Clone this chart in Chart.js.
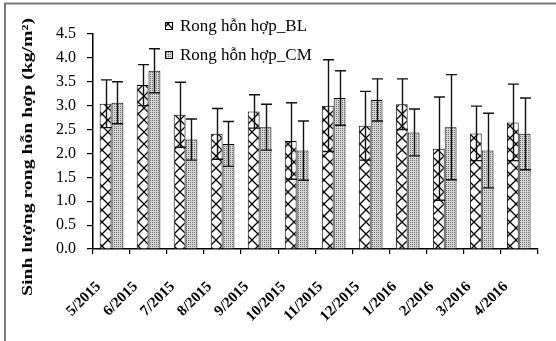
<!DOCTYPE html>
<html><head><meta charset="utf-8">
<script src="https://cdn.jsdelivr.net/npm/chart.js@4"></script>
<style>html,body{margin:0;padding:0;background:#fff}#wrap{width:556px;height:341px;position:relative}</style>
</head><body><div id="wrap"><canvas id="c" width="556" height="341"></canvas></div>
<script>
const categories = ['5/2015','6/2015','7/2015','8/2015','9/2015','10/2015','11/2015','12/2015','1/2016','2/2016','3/2016','4/2016'];
const seriesLabels = ['Rong hỗn hợp_BL','Rong hỗn hợp_CM'];
const blValues = [3.04, 3.43, 2.81, 2.41, 2.88, 2.26, 3.00, 2.58, 3.03, 2.10, 2.42, 2.65];
const blErrors = [0.50, 0.43, 0.68, 0.53, 0.35, 0.80, 0.96, 0.72, 0.53, 1.08, 0.57, 0.80];
const cmValues = [3.06, 3.73, 2.29, 2.20, 2.55, 2.06, 3.16, 3.12, 2.44, 2.55, 2.06, 2.41];
const cmErrors = [0.44, 0.46, 0.43, 0.47, 0.48, 0.62, 0.57, 0.44, 0.49, 1.10, 0.78, 0.75];
const yTicks = [0, 0.5, 1.0, 1.5, 2.0, 2.5, 3.0, 3.5, 4.0, 4.5];
const yTitle = 'Sinh lượng rong hỗn hợp (kg/m²)';

const canvas = document.getElementById('c');
const ctx = canvas.getContext('2d');

function crossPattern() {
  const c = document.createElement('canvas'); c.width = 12; c.height = 12;
  const g = c.getContext('2d');
  g.fillStyle = '#fff'; g.fillRect(0, 0, 12, 12);
  g.strokeStyle = '#000'; g.lineWidth = 1.3;
  g.beginPath();
  g.moveTo(-1, -1); g.lineTo(13, 13);
  g.moveTo(13, -1); g.lineTo(-1, 13);
  g.stroke();
  return ctx.createPattern(c, 'repeat');
}
function dotPattern() {
  const c = document.createElement('canvas'); c.width = 2; c.height = 2;
  const g = c.getContext('2d');
  g.fillStyle = '#d6d6d6'; g.fillRect(0, 0, 2, 2);
  g.fillStyle = '#707070'; g.fillRect(0, 0, 1, 1);
  return ctx.createPattern(c, 'repeat');
}
const patBL = crossPattern();
const patCM = dotPattern();

const errorSets = [blErrors, cmErrors];

const framePlugin = {
  id: 'frame',
  beforeDraw(chart) {
    const c = chart.ctx;
    c.save();
    c.fillStyle = '#fff'; c.fillRect(0, 0, chart.width, chart.height);
    c.strokeStyle = '#7a7a7a'; c.lineWidth = 2;
    c.beginPath();
    c.moveTo(5, chart.height); c.lineTo(5, 3.5); c.lineTo(chart.width, 3.5);
    c.stroke();
    c.restore();
  }
};

const errorPlugin = {
  id: 'errbars',
  afterDatasetsDraw(chart) {
    const c = chart.ctx;
    const ys = chart.scales.y;
    c.save();
    c.strokeStyle = '#111'; c.lineWidth = 1.4;
    chart.data.datasets.forEach((ds, i) => {
      const meta = chart.getDatasetMeta(i);
      const errs = errorSets[i];
      meta.data.forEach((el, j) => {
        const v = ds.data[j], e = errs[j];
        const x = Math.round(el.x) + 0.5;
        const yt = ys.getPixelForValue(v + e);
        const yb = ys.getPixelForValue(v - e);
        const hw = 5.5;
        c.beginPath();
        c.moveTo(x, yt); c.lineTo(x, yb);
        c.moveTo(x - hw, yt); c.lineTo(x + hw, yt);
        c.moveTo(x - hw, yb); c.lineTo(x + hw, yb);
        c.stroke();
      });
    });
    c.restore();
  }
};

const titleLegendPlugin = {
  id: 'titleLegend',
  afterDraw(chart) {
    const c = chart.ctx;
    c.save();
    c.translate(28, 157);
    c.rotate(-Math.PI / 2);
    c.font = 'bold 15px "Liberation Serif"';
    c.fillStyle = '#000';
    c.textAlign = 'center'; c.textBaseline = 'middle';
    const w = c.measureText(yTitle).width;
    const target = 278;
    c.scale(target / w, 1);
    c.fillText(yTitle, 0, 0);
    c.restore();

    c.save();
    const pats = [patBL, patCM];
    const rows = [26, 55];
    c.font = '17px "Liberation Serif"';
    c.textBaseline = 'middle'; c.textAlign = 'left';
    chart.data.datasets.forEach((ds, i) => {
      const y = rows[i];
      c.fillStyle = pats[i];
      c.fillRect(165, y - 4, 8, 8);
      c.strokeStyle = '#000'; c.lineWidth = 1;
      c.strokeRect(165.5, y - 3.5, 7, 7);
      c.fillStyle = '#000';
      c.fillText(ds.label, 180, y + 1);
    });
    c.restore();
  }
};

new Chart(canvas, {
  type: 'bar',
  data: {
    labels: categories,
    datasets: [
      { label: seriesLabels[0], data: blValues, backgroundColor: patBL, borderColor: '#000', borderWidth: 1, categoryPercentage: 0.64, barPercentage: 1.0 },
      { label: seriesLabels[1], data: cmValues, backgroundColor: patCM, borderColor: '#000', borderWidth: 1, categoryPercentage: 0.64, barPercentage: 1.0 }
    ]
  },
  options: {
    responsive: false, animation: false, devicePixelRatio: 1,
    layout: { padding: { top: 34, right: 13, left: 0, bottom: 0 } },
    plugins: { legend: { display: false }, tooltip: { enabled: false }, title: { display: false } },
    scales: {
      x: {
        offset: true,
        grid: { display: true, drawOnChartArea: false, offset: true, tickLength: 5, color: '#000', lineWidth: 1.2 },
        border: { display: true, color: '#000', width: 1.5 },
        ticks: { autoSkip: false, maxRotation: 45, minRotation: 45, padding: 24, labelOffset: -13, color: '#000',
                 font: { family: '"Liberation Serif"', size: 15, weight: 'bold' } },
        afterFit: s => { s.height = 92; }
      },
      y: {
        min: 0, max: 4.5,
        afterBuildTicks: s => { s.ticks = yTicks.map(v => ({ value: v })); },
        grid: { display: true, drawOnChartArea: false, tickLength: 6, color: '#000', lineWidth: 1.2 },
        border: { display: true, color: '#000', width: 1.5 },
        ticks: { padding: 11, color: '#000', font: { family: '"Liberation Serif"', size: 16 },
                 callback: v => Number(v).toFixed(1) },
        afterFit: s => { s.width = 93; }
      }
    }
  },
  plugins: [framePlugin, errorPlugin, titleLegendPlugin]
});
</script>
</body></html>
